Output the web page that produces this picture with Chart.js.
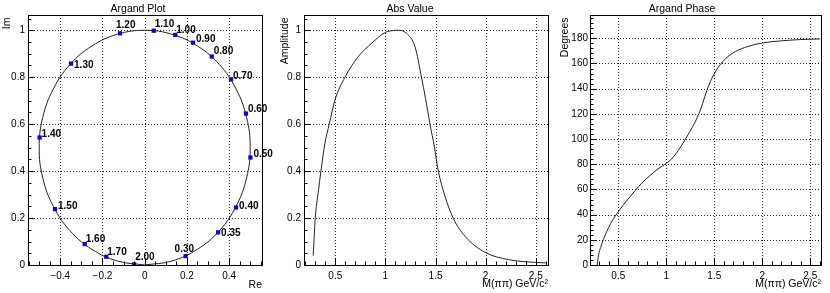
<!DOCTYPE html>
<html lang="en">
<head>
<meta charset="UTF-8">
<title>Argand plot</title>
<script src="https://cdn.jsdelivr.net/npm/chart.js"></script>
<style>
  body { margin: 0; background: #fff; }
  canvas { position: absolute; top: 0; }
</style>
</head>
<body>
<canvas id="padArgand" width="277" height="293" style="left:0px"></canvas>
<canvas id="padAbs" width="276" height="293" style="left:277px"></canvas>
<canvas id="padPhase" width="277" height="293" style="left:553px"></canvas>
<script>
// --- data ---

// Argand plot markers (mass label, Re, Im)
const argMass = ["0.30", "0.35", "0.40", "0.50", "0.60", "0.70", "0.80", "0.90", "1.00", "1.10", "1.20", "1.30", "1.40", "1.50", "1.60", "1.70", "2.00"];
const argRe = [0.194, 0.348, 0.433, 0.501, 0.480, 0.409, 0.318, 0.229, 0.145, 0.043, -0.117, -0.349, -0.498, -0.425, -0.284, -0.182, -0.050];
const argIm = [0.038, 0.139, 0.245, 0.458, 0.645, 0.791, 0.888, 0.947, 0.980, 0.998, 0.987, 0.858, 0.543, 0.238, 0.089, 0.035, 0.003];

// Argand curve traced along the circle
const circRe = [0.000, 0.129, 0.250, 0.354, 0.433, 0.483, 0.500, 0.483, 0.433, 0.354, 0.250, 0.129, 0.000, -0.129, -0.250, -0.354, -0.433, -0.483, -0.500, -0.483, -0.433, -0.354, -0.250, -0.129, 0.000];
const circIm = [0.000, 0.017, 0.067, 0.146, 0.250, 0.371, 0.500, 0.629, 0.750, 0.854, 0.933, 0.983, 1.000, 0.983, 0.933, 0.854, 0.750, 0.629, 0.500, 0.371, 0.250, 0.146, 0.067, 0.017, 0.000];

// Abs value vs M(pipi)
const absMass = [0.28, 0.30, 0.33, 0.357, 0.397, 0.44, 0.497, 0.597, 0.73, 0.864, 1.00, 1.08, 1.13, 1.21, 1.295, 1.36, 1.40, 1.445, 1.49, 1.528, 1.595, 1.678, 1.795, 1.994, 2.227, 2.50, 2.60];
const absAmp = [0.04, 0.198, 0.31, 0.40, 0.519, 0.60, 0.703, 0.80, 0.888, 0.945, 0.991, 0.999, 1.00, 0.987, 0.93, 0.80, 0.71, 0.60, 0.50, 0.40, 0.292, 0.198, 0.122, 0.054, 0.023, 0.011, 0.009];

// Argand phase vs M(pipi)
const phMass = [0.28, 0.29, 0.30, 0.32, 0.343, 0.38, 0.42, 0.483, 0.55, 0.62, 0.674, 0.75, 0.83, 0.90, 0.987, 1.05, 1.10, 1.15, 1.20, 1.25, 1.30, 1.342, 1.38, 1.422, 1.47, 1.52, 1.561, 1.62, 1.72, 1.85, 2.00, 2.20, 2.40, 2.60];
const phDeg = [0, 6, 10, 15, 20, 26.5, 33, 40.5, 47.5, 54, 59, 65.5, 71, 75.5, 80, 83.8, 88.3, 93.8, 100, 106.5, 113.5, 120.5, 128.5, 138.5, 147.5, 154.5, 159, 164, 169.5, 173.5, 176.3, 178, 179, 179.5];

// tick labels
const reTicks = [-0.4, -0.2, 0, 0.2, 0.4];
const reLabels = ["\u22120.4", "\u22120.2", "0", "0.2", "0.4"];
const ampTicks = [0, 0.2, 0.4, 0.6, 0.8, 1];
const ampLabels = ["0", "0.2", "0.4", "0.6", "0.8", "1"];
const massTicks = [0.5, 1, 1.5, 2, 2.5];
const massLabels = ["0.5", "1", "1.5", "2", "2.5"];
const degTicks = [0, 20, 40, 60, 80, 100, 120, 140, 160, 180];
const degLabels = ["0", "20", "40", "60", "80", "100", "120", "140", "160", "180"];

const FONT = "'Liberation Sans', Arial, sans-serif";
const H = 293;

// little shifts of the marker labels (left edge / middle, relative to the marker)
const labelShift = {
    "0.30": [-11, -7], "0.35": [3, 1], "0.40": [3, -1], "0.50": [3, -3], "0.60": [2, -4],
    "0.70": [2, -3], "0.80": [2, -5], "0.90": [3, -3], "1.00": [1, -5], "1.10": [1, -6.5],
    "1.20": [-4, -8], "1.30": [3, 2], "1.40": [2, -3], "1.50": [3, -3], "1.60": [1, -5],
    "1.70": [1, -5], "2.00": [1, -7]
};

// ROOT-like frame: dotted grid, inner ticks, frame, titles
const rootStyle = {
    id: "rootStyle",
    beforeDatasetsDraw(chart, args, o) {
        const c = chart.ctx, a = chart.chartArea;
        const xs = chart.scales.x, ys = chart.scales.y;
        c.save();
        c.strokeStyle = "rgba(0,0,0,0.85)";
        c.lineWidth = 1;
        c.setLineDash([1, 2]);
        o.xMajor.forEach(v => {
            const px = Math.round(xs.getPixelForValue(v)) + 0.5;
            c.beginPath(); c.moveTo(px, a.top); c.lineTo(px, a.bottom); c.stroke();
        });
        o.yMajor.forEach(v => {
            const py = Math.round(ys.getPixelForValue(v)) + 0.5;
            c.beginPath(); c.moveTo(a.left, py); c.lineTo(a.right, py); c.stroke();
        });
        c.restore();
    },
    afterDatasetsDraw(chart, args, o) {
        const c = chart.ctx, a = chart.chartArea;
        const xs = chart.scales.x, ys = chart.scales.y;
        c.save();
        c.strokeStyle = "#000";
        c.lineWidth = 1;
        const eps = 1e-6;
        for (let k = Math.ceil(xs.min / o.xMinor - eps); k * o.xMinor <= xs.max + eps; k++) {
            const v = k * o.xMinor;
            const major = o.xMajor.some(m => Math.abs(m - v) < eps);
            const px = Math.round(xs.getPixelForValue(v)) + 0.5;
            c.beginPath(); c.moveTo(px, a.bottom); c.lineTo(px, a.bottom - (major ? 7 : 3.5)); c.stroke();
        }
        for (let k = Math.ceil(ys.min / o.yMinor - eps); k * o.yMinor <= ys.max + eps; k++) {
            const v = k * o.yMinor;
            const major = o.yMajor.some(m => Math.abs(m - v) < eps);
            const py = Math.round(ys.getPixelForValue(v)) + 0.5;
            c.beginPath(); c.moveTo(a.left, py); c.lineTo(a.left + (major ? 7 : 3.5), py); c.stroke();
        }
        c.strokeRect(a.left + 0.5, a.top + 0.5, a.right - a.left, a.bottom - a.top);
        c.restore();

        // marker labels on the Argand plot
        if (o.markLabels) {
            const meta = chart.getDatasetMeta(1);
            c.save();
            c.fillStyle = "#000";
            c.font = "bold 10px " + FONT;
            c.textAlign = "left";
            c.textBaseline = "middle";
            meta.data.forEach((pt, i) => {
                const s = labelShift[o.markLabels[i]] || [2, -4];
                c.fillText(o.markLabels[i], pt.x + s[0], pt.y + s[1]);
            });
            c.restore();
        }
    },
    afterDraw(chart, args, o) {
        const c = chart.ctx;
        c.save();
        c.fillStyle = "#000";
        c.font = o.titleSize + "px " + FONT;
        c.textAlign = "center";
        c.textBaseline = "middle";
        c.fillText(o.title, o.titleX, 9);
        c.font = "10.5px " + FONT;
        c.textAlign = "right";
        c.fillText(o.xTitle, chart.chartArea.right, o.xTitleY);
        c.translate(o.yTitleX, 17.5);
        c.rotate(-Math.PI / 2);
        c.fillText(o.yTitle, 0, 0);
        c.restore();
    }
};

function axis(min, max, ticks, labels, horizontal, size, pad) {
    return {
        type: "linear",
        min: min,
        max: max,
        afterBuildTicks: s => { s.ticks = ticks.map(v => ({ value: v })); },
        afterFit: s => { if (horizontal) s.height = size; else s.width = size; },
        ticks: {
            callback: (v, i) => labels[i],
            autoSkip: false,
            maxRotation: 0,
            padding: pad,
            color: "#000",
            font: { family: FONT, size: 10 }
        },
        grid: { display: false, drawTicks: false },
        border: { display: false }
    };
}

function pad(id, box, xs, ys, datasets, style) {
    const cv = document.getElementById(id);
    return new Chart(cv.getContext("2d"), {
        type: "scatter",
        data: { datasets: datasets },
        options: {
            responsive: false,
            animation: false,
            layout: { padding: { left: 0, top: box.t, right: cv.width - box.r, bottom: 0 } },
            scales: {
                x: axis(xs[0], xs[1], xs[2], xs[3], true, H - box.b, 5),
                y: axis(ys[0], ys[1], ys[2], ys[3], false, box.l, ys[4])
            },
            plugins: {
                legend: { display: false },
                tooltip: { enabled: false },
                rootStyle: style
            }
        },
        plugins: [rootStyle]
    });
}

const curve = { showLine: true, pointRadius: 0, borderColor: "#222", borderWidth: 1, fill: false };

// Pad 1: Argand plot
pad("padArgand", { l: 28, r: 262, t: 15, b: 265 },
    [-0.553, 0.556, reTicks, reLabels],
    [0, 1.065, ampTicks, ampLabels, 3],
    [
        { ...curve, tension: 0.4, data: circRe.map((x, i) => ({ x: x, y: circIm[i] })) },
        {
            data: argRe.map((x, i) => ({ x: x, y: argIm[i] })),
            pointStyle: "rect", pointRadius: 3, backgroundColor: "#0000ff", borderWidth: 0, showLine: false
        }
    ],
    {
        title: "Argand Plot", titleX: 138, titleSize: 10.5,
        xTitle: "Re", xTitleY: 285, yTitle: "Im", yTitleX: 7,
        xMajor: reTicks, xMinor: 0.05, yMajor: ampTicks, yMinor: 0.05,
        markLabels: argMass
    });

// Pad 2: Abs value
pad("padAbs", { l: 27, r: 271, t: 15, b: 265 },
    [0.188, 2.622, massTicks, massLabels],
    [0, 1.065, ampTicks, ampLabels, 3],
    [{ ...curve, cubicInterpolationMode: "monotone", data: absMass.map((x, i) => ({ x: x, y: absAmp[i] })) }],
    {
        title: "Abs Value", titleX: 410 - 277, titleSize: 10.5,
        xTitle: "M(\u03c0\u03c0) GeV/c\u00b2", xTitleY: 284, yTitle: "Amplitude", yTitleX: 285.5 - 277,
        xMajor: massTicks, xMinor: 0.1, yMajor: ampTicks, yMinor: 0.05
    });

// Pad 3: Argand phase
pad("padPhase", { l: 37, r: 268, t: 15, b: 265 },
    [0.205, 2.612, massTicks, massLabels],
    [0, 198.5, degTicks, degLabels, 2],
    [{ ...curve, cubicInterpolationMode: "monotone", data: phMass.map((x, i) => ({ x: x, y: phDeg[i] })) }],
    {
        title: "Argand Phase", titleX: 682 - 553, titleSize: 10.5,
        xTitle: "M(\u03c0\u03c0) GeV/c\u00b2", xTitleY: 284, yTitle: "Degrees", yTitleX: 565 - 553,
        xMajor: massTicks, xMinor: 0.1, yMajor: degTicks, yMinor: 4
    });
</script>
</body>
</html>
